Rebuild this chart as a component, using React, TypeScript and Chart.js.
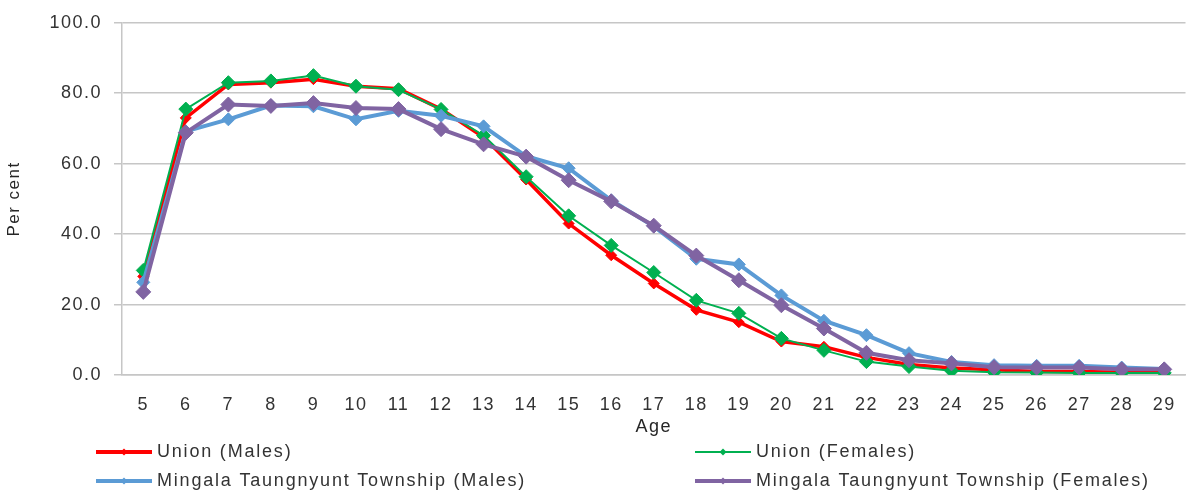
import React, { useEffect, useRef } from "react";
import { Chart, registerables } from "chart.js";

Chart.register(...registerables);

const ages = ["5","6","7","8","9","10","11","12","13","14","15","16","17","18","19","20","21","22","23","24","25","26","27","28","29"];
const unionMales = [28, 73, 82.5, 83, 84, 82, 81.3, 75.5, 67.5, 55.5, 43, 34, 26, 18.5, 15, 9.5, 8, 5, 3, 2, 1.5, 1, 1, 0.8, 0.8];
const unionFemales = [29.7, 75.5, 83, 83.5, 85, 82, 81, 75.4, 68, 56.3, 45.2, 36.8, 29.1, 21.2, 17.5, 10.4, 7, 3.8, 2.4, 1.2, 0.8, 0.7, 0.6, 0.6, 0.6];
const mingalaMales = [26.3, 69.2, 72.6, 76.5, 76.3, 72.6, 75, 73.6, 70.6, 62.1, 58.7, 49.6, 42.2, 33, 31.4, 22.6, 15.4, 11.3, 6.2, 3.7, 2.8, 2.6, 2.6, 2.1, 1.7];
const mingalaFemales = [23.6, 68.8, 76.8, 76.4, 77.2, 75.8, 75.5, 69.8, 65.5, 62, 55.3, 49.3, 42.4, 33.9, 26.9, 19.8, 13.2, 6.3, 4.2, 3.3, 2.2, 2.1, 2.1, 1.6, 1.6];
const seriesNames = [
  "Union (Males)",
  "Union (Females)",
  "Mingala Taungnyunt Township (Males)",
  "Mingala Taungnyunt Township (Females)",
];
const yTicks = [0, 20, 40, 60, 80, 100];

const colors = ["#FF0000", "#00B050", "#5B9BD5", "#8064A2"];
const lineWidths = [3.5, 2, 4, 4];
const pointRadii = [5.5, 7, 6.5, 7.5];
const FONT = "'Liberation Sans', Arial, sans-serif";

const legendPlugin = {
  id: "customLegend",
  beforeDraw(chart: any) {
    chart.ctx.letterSpacing = "1.5px";
  },
  afterDraw(chart: any) {
    const ctx = chart.ctx;
    ctx.save();
    const positions = [
      { x: 96, y: 452 },
      { x: 695, y: 452 },
      { x: 96, y: 481 },
      { x: 695, y: 481 },
    ];
    const legendLW = [4, 2, 4, 4];
    chart.data.datasets.forEach((ds: any, i: number) => {
      const p = positions[i];
      ctx.strokeStyle = ds.borderColor;
      ctx.lineWidth = legendLW[i];
      ctx.beginPath();
      ctx.moveTo(p.x, p.y);
      ctx.lineTo(p.x + 56, p.y);
      ctx.stroke();
      const cx = p.x + 28;
      const r = 3.5;
      ctx.fillStyle = ds.borderColor;
      ctx.beginPath();
      ctx.moveTo(cx, p.y - r);
      ctx.lineTo(cx + r, p.y);
      ctx.lineTo(cx, p.y + r);
      ctx.lineTo(cx - r, p.y);
      ctx.closePath();
      ctx.fill();
      ctx.letterSpacing = "1.8px";
      ctx.font = `18px ${FONT}`;
      ctx.fillStyle = "#333333";
      ctx.textBaseline = "middle";
      ctx.textAlign = "left";
      ctx.fillText(ds.label, p.x + 61, p.y);
    });
    ctx.restore();
    ctx.letterSpacing = "0px";
  },
};

export default function App() {
  const ref = useRef<HTMLCanvasElement | null>(null);
  useEffect(() => {
    if (!ref.current) return;
    const seriesData = [unionMales, unionFemales, mingalaMales, mingalaFemales];
    const chart = new Chart(ref.current, {
      type: "line",
      data: {
        labels: ages,
        datasets: seriesData.map((d, i) => ({
          label: seriesNames[i],
          data: d,
          borderColor: colors[i],
          backgroundColor: colors[i],
          borderWidth: lineWidths[i],
          pointStyle: "rectRot",
          pointRadius: pointRadii[i],
          pointBorderWidth: 1,
          pointBorderColor: colors[i],
          pointBackgroundColor: colors[i],
          tension: 0,
          fill: false,
          order: 4 - i,
        })),
      },
      options: {
        responsive: false,
        animation: false,
        layout: { padding: { top: 21, right: 7, bottom: 57, left: 0 } },
        plugins: {
          legend: { display: false },
          tooltip: { enabled: false },
        },
        scales: {
          x: {
            offset: true,
            grid: { display: false },
            border: { display: true, color: "#c6c6c6", width: 1.5 },
            ticks: {
              color: "#333333",
              font: { family: FONT, size: 18 },
              padding: 11,
              maxRotation: 0,
              autoSkip: false,
            },
            title: {
              display: true,
              text: "Age",
              color: "#262626",
              font: { family: FONT, size: 18 },
              padding: { top: 0, bottom: 0 },
            },
            afterFit: (scale: any) => {
              scale.height = 63;
            },
          },
          y: {
            min: 0,
            max: 100,
            afterBuildTicks: (scale: any) => {
              scale.ticks = yTicks.map((v) => ({ value: v }));
            },
            grid: {
              color: "#c6c6c6",
              lineWidth: 1.5,
              drawTicks: true,
              tickLength: 8,
            },
            border: { display: true, color: "#c6c6c6", width: 1.5 },
            ticks: {
              color: "#333333",
              font: { family: FONT, size: 18 },
              padding: 12,
              callback: (v: any) => Number(v).toFixed(1),
            },
            title: {
              display: true,
              text: "Per cent",
              color: "#262626",
              font: { family: FONT, size: 17 },
              padding: { top: 4, bottom: 0 },
            },
            afterFit: (scale: any) => {
              scale.width = 122;
            },
          },
        },
      },
      plugins: [legendPlugin],
    });
    return () => chart.destroy();
  }, []);
  return (
    <div style={{ position: "absolute", left: 0, top: 0, width: 1194, height: 495, background: "#fff" }}>
      <canvas ref={ref} width={1194} height={495} />
    </div>
  );
}
